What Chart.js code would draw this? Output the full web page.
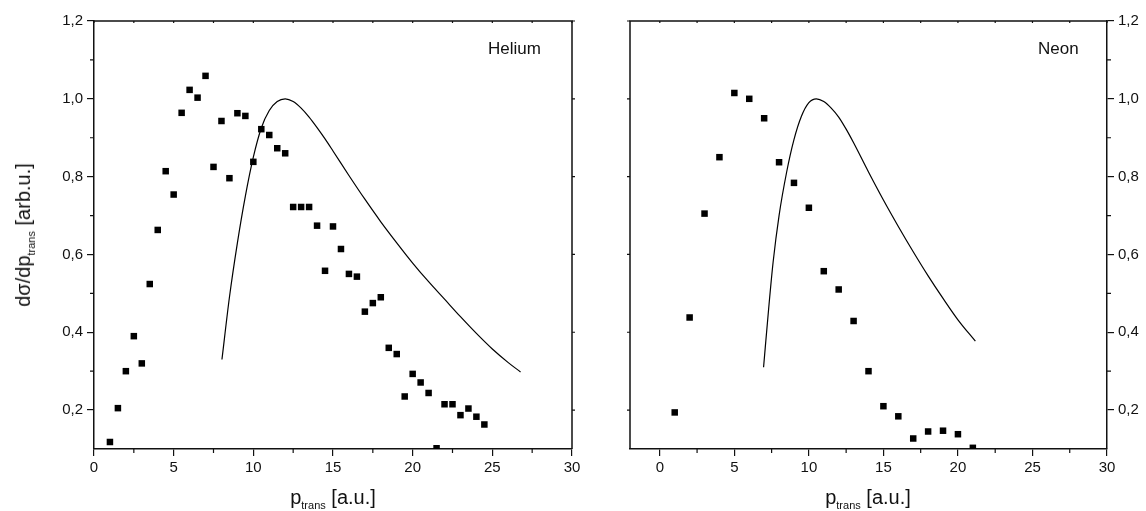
<!DOCTYPE html>
<html>
<head>
<meta charset="utf-8">
<script src="https://cdn.jsdelivr.net/npm/chart.js@4.4.1/dist/chart.umd.min.js"></script>
<style>
  html, body { margin: 0; padding: 0; background: #fff; }
  body { width: 1146px; height: 511px; position: relative; overflow: hidden;
         font-family: "Liberation Sans", Arial, sans-serif; color: #111; }
  .box { position: absolute; top: 0; height: 511px; }
  #heBox { left: 0; width: 600px; }
  #neBox { left: 600px; width: 546px; }
  .lbl { position: absolute; font-size: 20px; white-space: nowrap; line-height: 1; }
  .lbl sub { font-size: 11px; vertical-align: -5px; }
  .ytitle { left: 25px; top: 235px; transform: translate(-50%, -50%) rotate(-90deg); }
  .xtitle { top: 487px; transform: translateX(-50%); }
  .tag { font-size: 17px; top: 40px; }
</style>
</head>
<body>
<div class="box" id="heBox"><canvas id="heChart" width="600" height="511"></canvas></div>
<div class="box" id="neBox"><canvas id="neChart" width="546" height="511"></canvas></div>

<div class="lbl ytitle">d&sigma;/dp<sub>trans</sub> [arb.u.]</div>
<div class="lbl xtitle" style="left:333px">p<sub>trans</sub> [a.u.]</div>
<div class="lbl xtitle" style="left:868px">p<sub>trans</sub> [a.u.]</div>
<div class="lbl tag" style="left:488px">Helium</div>
<div class="lbl tag" style="left:1038px">Neon</div>

<script>
// ---------- data ----------
const heX = [1, 1.5, 2, 2.5, 3, 3.5, 4, 4.5, 5, 5.5, 6, 6.5, 7, 7.5, 8, 8.5, 9, 9.5, 10, 10.5,
  11, 11.5, 12, 12.5, 13, 13.5, 14, 14.5, 15, 15.5, 16, 16.5, 17, 17.5, 18, 18.5, 19, 19.5,
  20, 20.5, 21, 21.5, 22, 22.5, 23, 23.5, 24, 24.5];
const heY = [0.118, 0.205, 0.30, 0.39, 0.32, 0.524, 0.663, 0.814, 0.754, 0.964, 1.023, 1.003,
  1.059, 0.825, 0.943, 0.796, 0.963, 0.956, 0.838, 0.922, 0.907, 0.873, 0.86, 0.722, 0.722,
  0.722, 0.674, 0.558, 0.672, 0.614, 0.55, 0.543, 0.453, 0.475, 0.49, 0.36, 0.344, 0.235,
  0.293, 0.271, 0.244, 0.102, 0.215, 0.215, 0.187, 0.204, 0.183, 0.163];

// theory curve, Helium
const heCurveX = [8.03, 8.5, 9.0, 9.5, 10.0, 10.5, 11.0, 11.5, 12.0, 12.5, 13.0, 13.5, 14.0,
  14.5, 15.0, 16.0, 17.0, 18.0, 19.0, 20.0, 21.0, 22.0, 23.0, 24.0, 25.0, 26.0, 26.77];
const heCurveY = [0.33, 0.49, 0.63, 0.75, 0.85, 0.925, 0.97, 0.993, 1.0, 0.993, 0.976, 0.953,
  0.926, 0.897, 0.866, 0.803, 0.742, 0.684, 0.630, 0.578, 0.530, 0.485, 0.440, 0.397, 0.357,
  0.322, 0.298];

const neX = [1, 2, 3, 4, 5, 6, 7, 8, 9, 10, 11, 12, 13, 14, 15, 16, 17, 18, 19, 20, 21];
const neY = [0.194, 0.438, 0.705, 0.85, 1.015, 1.0, 0.95, 0.837, 0.784, 0.72, 0.557, 0.51,
  0.429, 0.30, 0.21, 0.184, 0.127, 0.145, 0.147, 0.138, 0.103];

// theory curve, Neon
const neCurveX = [6.96, 7.3, 7.6, 8.0, 8.5, 9.0, 9.5, 10.0, 10.5, 11.0, 11.5, 12.0, 12.5,
  13.0, 14.0, 15.0, 16.0, 17.0, 18.0, 19.0, 20.0, 21.17];
const neCurveY = [0.31, 0.46, 0.58, 0.70, 0.81, 0.895, 0.955, 0.99, 1.0, 0.993, 0.976, 0.953,
  0.922, 0.887, 0.812, 0.740, 0.672, 0.607, 0.545, 0.487, 0.432, 0.377];

// ---------- axes ----------
const xTicks = [0, 5, 10, 15, 20, 25, 30];
const xTickLabels = ["0", "5", "10", "15", "20", "25", "30"];
const yTicks = [0.2, 0.4, 0.6, 0.8, 1.0, 1.2];
const yTickLabels = ["0,2", "0,4", "0,6", "0,8", "1,0", "1,2"];

const INK = "#111";
const tickFont = { family: "Liberation Sans", size: 15 };

function pts(xs, ys) {
  return xs.map((x, i) => ({ x, y: ys[i] }));
}

// frame lines on the other two sides + short minor ticks
const framePlugin = {
  id: "frame",
  afterDraw(chart, args, opts) {
    const { ctx, chartArea: a, scales } = chart;
    const x = scales.x, y = scales.y;
    const mirror = opts.side === "left" ? a.left : a.right;
    const out = opts.side === "left" ? -1 : 1;
    const axisX = opts.side === "left" ? a.right : a.left;
    const axisOut = -out;
    ctx.save();
    ctx.strokeStyle = INK;
    ctx.lineWidth = 1.5;
    ctx.beginPath();
    ctx.moveTo(a.left - 0.75, a.top);
    ctx.lineTo(a.right + 0.75, a.top);
    ctx.moveTo(mirror, a.top);
    ctx.lineTo(mirror, a.bottom);
    ctx.stroke();

    ctx.lineWidth = 1.2;
    ctx.beginPath();
    // minor x ticks on bottom axis, small marks on the top border
    for (let i = 0; i < xTicks.length; i++) {
      const p = x.getPixelForValue(xTicks[i]);
      ctx.moveTo(p, a.top);
      ctx.lineTo(p, a.top + 2);
      if (i < xTicks.length - 1) {
        const m = x.getPixelForValue((xTicks[i] + xTicks[i + 1]) / 2);
        ctx.moveTo(m, a.bottom);
        ctx.lineTo(m, a.bottom + 4);
        ctx.moveTo(m, a.top);
        ctx.lineTo(m, a.top + 2);
      }
    }
    // minor y ticks on the labelled axis
    for (let i = 0; i < yTicks.length - 1; i++) {
      const m = y.getPixelForValue((yTicks[i] + yTicks[i + 1]) / 2);
      ctx.moveTo(axisX, m);
      ctx.lineTo(axisX + axisOut * 4, m);
    }
    // small marks on the mirrored y border
    for (const v of yTicks) {
      const p = y.getPixelForValue(v);
      ctx.moveTo(mirror, p);
      ctx.lineTo(mirror + out * 3, p);
    }
    ctx.stroke();
    ctx.restore();
  }
};

function makeChart(id, cfg) {
  return new Chart(document.getElementById(id), {
    type: "scatter",
    data: {
      datasets: [
        {
          data: pts(cfg.px, cfg.py),
          pointStyle: "rect",
          pointRadius: 4.6,
          pointHoverRadius: 4.6,
          backgroundColor: "#000",
          borderWidth: 0,
          clip: 0,
        },
        {
          data: pts(cfg.cx, cfg.cy),
          showLine: true,
          borderColor: "#000",
          borderWidth: 1.2,
          pointRadius: 0,
          cubicInterpolationMode: "monotone",
          clip: 0,
        },
      ],
    },
    options: {
      responsive: false,
      animation: false,
      devicePixelRatio: 1,
      layout: { padding: cfg.padding },
      plugins: {
        legend: { display: false },
        tooltip: { enabled: false },
        frame: { side: cfg.mirrorSide },
      },
      scales: {
        x: {
          type: "linear",
          min: cfg.xMin,
          max: 30,
          afterBuildTicks: (s) => { s.ticks = xTicks.map((v) => ({ value: v })); },
          afterFit: (s) => { s.height = 62; },
          ticks: {
            font: tickFont,
            color: INK,
            padding: 3,
            maxRotation: 0,
            callback: (v, i) => xTickLabels[i],
          },
          grid: { drawOnChartArea: false, color: INK, lineWidth: 1.2, tickLength: 7 },
          border: { color: INK, width: 1.5 },
        },
        y: {
          type: "linear",
          position: cfg.yPos,
          min: 0.1,
          max: 1.2,
          afterBuildTicks: (s) => { s.ticks = yTicks.map((v) => ({ value: v })); },
          afterFit: (s) => { s.width = cfg.yWidth; },
          ticks: {
            font: tickFont,
            color: INK,
            padding: 4,
            callback: (v, i) => yTickLabels[i],
          },
          grid: { drawOnChartArea: false, color: INK, lineWidth: 1.2, tickLength: 7 },
          border: { color: INK, width: 1.5 },
        },
      },
    },
    plugins: [framePlugin],
  });
}

makeChart("heChart", {
  px: heX, py: heY, cx: heCurveX, cy: heCurveY,
  xMin: 0, yPos: "left", yWidth: 94, mirrorSide: "right",
  padding: { left: 0, top: 21, right: 28, bottom: 0 },
});

makeChart("neChart", {
  px: neX, py: neY, cx: neCurveX, cy: neCurveY,
  xMin: -2, yPos: "right", yWidth: 39, mirrorSide: "left",
  padding: { left: 30, top: 21, right: 0, bottom: 0 },
});
</script>
</body>
</html>
